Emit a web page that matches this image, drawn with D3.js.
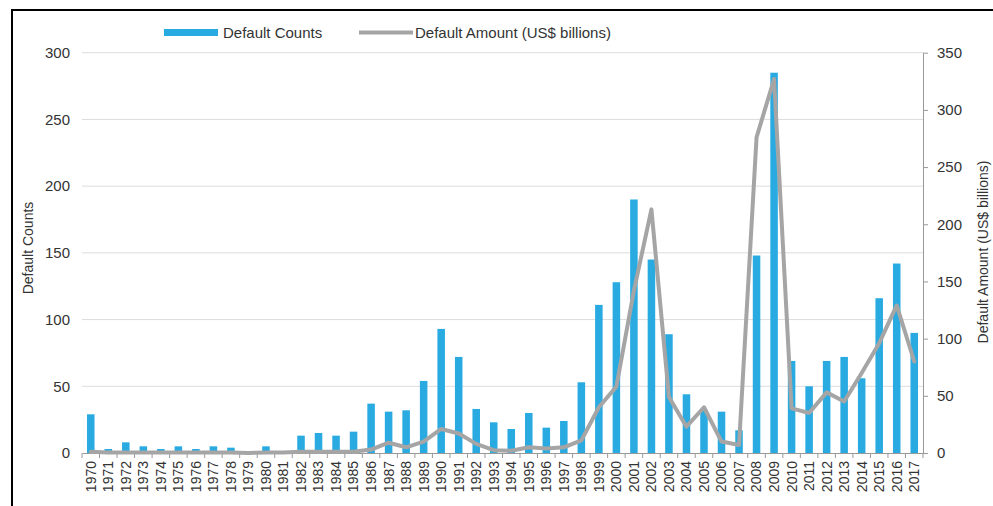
<!DOCTYPE html>
<html>
<head>
<meta charset="utf-8">
<script src="https://cdn.jsdelivr.net/npm/d3@7"></script>
<style>
  body { margin: 0; background: #fff; }
  text { font-family: "Liberation Sans", Arial, sans-serif; fill: #333; }
</style>
</head>
<body>
<div id="chart"></div>
<script>
// Data
var years = d3.range(1970, 2018).map(String);

var defaultCounts = [29, 3, 8, 5, 3, 5, 3, 5, 4, 0,
    5, 1, 13, 15, 13, 16, 37, 31, 32, 54,
    93, 72, 33, 23, 18, 30, 19, 24, 53, 111,
    128, 190, 145, 89, 44, 32, 31, 17, 148, 285,
    69, 50, 69, 72, 56, 116, 142, 90];

var defaultAmounts = [1, 0.5, 0.5, 0.5, 0.5, 0.5, 0.5, 0.5, 0.5, 0,
    0.5, 0.5, 1, 1, 1, 1, 3, 9, 5, 10,
    21, 17, 8, 2.5, 2, 5, 4, 5, 11, 40,
    58, 142, 213, 49, 23, 40, 10, 7, 276, 327,
    39, 35, 53, 45, 70, 96, 129, 80];

var leftTicks = [0, 50, 100, 150, 200, 250, 300];
var rightTicks = [0, 50, 100, 150, 200, 250, 300, 350];

var seriesNames = ["Default Counts", "Default Amount (US$ billions)"];

// Set up SVG chart
var svgWidth = 993;
var svgHeight = 506;

var margin = { top: 52.7, right: 70, bottom: 53, left: 82 };
var chartWidth = svgWidth - margin.left - margin.right;
var chartHeight = svgHeight - margin.top - margin.bottom;

var barColor = "#29abe2";
var lineColor = "#a5a5a5";
var gridColor = "#dcdcdc";

var svg = d3.select("#chart")
  .append("svg")
  .attr("width", svgWidth)
  .attr("height", svgHeight);

// outer frame (left and top edges)
svg.append("line")
  .attr("x1", 12).attr("x2", 12)
  .attr("y1", 10).attr("y2", svgHeight)
  .attr("stroke", "#000").attr("stroke-width", 2);
svg.append("line")
  .attr("x1", 11).attr("x2", svgWidth)
  .attr("y1", 10).attr("y2", 10)
  .attr("stroke", "#000").attr("stroke-width", 2);

var chartGroup = svg.append("g")
  .attr("transform", `translate(${margin.left}, ${margin.top})`);

// Scales
var xBand = d3.scaleBand()
  .domain(years)
  .range([0, chartWidth])
  .paddingInner(0.57)
  .paddingOuter(0.285);

var yLeft = d3.scaleLinear()
  .domain([0, 300])
  .range([chartHeight, 0]);

var yRight = d3.scaleLinear()
  .domain([0, 350])
  .range([chartHeight, 0]);

// Gridlines
chartGroup.append("g")
  .selectAll("line")
  .data(leftTicks.slice(1))
  .enter()
  .append("line")
  .attr("x1", 0)
  .attr("x2", chartWidth)
  .attr("y1", d => yLeft(d))
  .attr("y2", d => yLeft(d))
  .attr("stroke", gridColor)
  .attr("stroke-width", 1);

// Left axis (labels only)
var leftAxis = d3.axisLeft(yLeft)
  .tickValues(leftTicks)
  .tickSize(0)
  .tickPadding(12);

var yAxisLeft = chartGroup.append("g")
  .call(leftAxis);
yAxisLeft.select(".domain").remove();
yAxisLeft.selectAll("text")
  .attr("font-size", 15)
  .style("font-family", "'Liberation Sans', Arial, sans-serif");

// Right axis
var rightAxis = d3.axisRight(yRight)
  .tickValues(rightTicks)
  .tickSize(5)
  .tickSizeOuter(0)
  .tickPadding(9);

var yAxisRight = chartGroup.append("g")
  .attr("transform", `translate(${chartWidth}, 0)`)
  .call(rightAxis);
yAxisRight.select(".domain").attr("stroke", "#999");
yAxisRight.selectAll(".tick line").attr("stroke", "#999");
yAxisRight.selectAll("text")
  .attr("font-size", 15)
  .style("font-family", "'Liberation Sans', Arial, sans-serif");

// Bars
chartGroup.append("g")
  .selectAll("rect")
  .data(defaultCounts)
  .enter()
  .append("rect")
  .attr("x", (d, i) => xBand(years[i]))
  .attr("y", d => yLeft(d))
  .attr("width", xBand.bandwidth())
  .attr("height", d => chartHeight - yLeft(d))
  .attr("fill", barColor);

// X axis
var bottomAxis = d3.axisBottom(xBand)
  .tickSize(0)
  .tickPadding(8);

var xAxis = chartGroup.append("g")
  .attr("transform", `translate(0, ${chartHeight})`)
  .call(bottomAxis);
xAxis.select(".domain").attr("stroke", "#999");
xAxis.selectAll("text")
  .attr("font-size", 14)
  .style("font-family", "'Liberation Sans', Arial, sans-serif")
  .attr("transform", "rotate(-90)")
  .attr("text-anchor", "end")
  .attr("x", -8)
  .attr("y", 0)
  .attr("dy", "0.35em");

// tick marks between categories
xAxis.append("g")
  .selectAll("line")
  .data(d3.range(years.length + 1))
  .enter()
  .append("line")
  .attr("x1", i => i * xBand.step())
  .attr("x2", i => i * xBand.step())
  .attr("y1", 0)
  .attr("y2", 5)
  .attr("stroke", "#999");

// Line
var amountLine = d3.line()
  .x((d, i) => xBand(years[i]) + xBand.bandwidth() / 2)
  .y(d => yRight(d));

chartGroup.append("path")
  .datum(defaultAmounts)
  .attr("d", amountLine)
  .attr("fill", "none")
  .attr("stroke", lineColor)
  .attr("stroke-width", 4)
  .attr("stroke-linejoin", "round")
  .attr("stroke-linecap", "round");

// Axis titles
svg.append("text")
  .attr("transform", `translate(33, 248) rotate(-90)`)
  .attr("text-anchor", "middle")
  .attr("font-size", 14)
  .text("Default Counts");

svg.append("text")
  .attr("transform", `translate(988, 252) rotate(-90)`)
  .attr("text-anchor", "middle")
  .attr("font-size", 14)
  .text("Default Amount (US$ billions)");

// Legend
var legend = svg.append("g");

legend.append("rect")
  .attr("x", 164)
  .attr("y", 29)
  .attr("width", 54)
  .attr("height", 7)
  .attr("fill", barColor);

legend.append("text")
  .attr("x", 223)
  .attr("y", 37.5)
  .attr("font-size", 15)
  .text(seriesNames[0]);

legend.append("line")
  .attr("x1", 359)
  .attr("x2", 413)
  .attr("y1", 32.5)
  .attr("y2", 32.5)
  .attr("stroke", lineColor)
  .attr("stroke-width", 4);

legend.append("text")
  .attr("x", 415)
  .attr("y", 37.5)
  .attr("font-size", 15)
  .text(seriesNames[1]);
</script>
</body>
</html>
